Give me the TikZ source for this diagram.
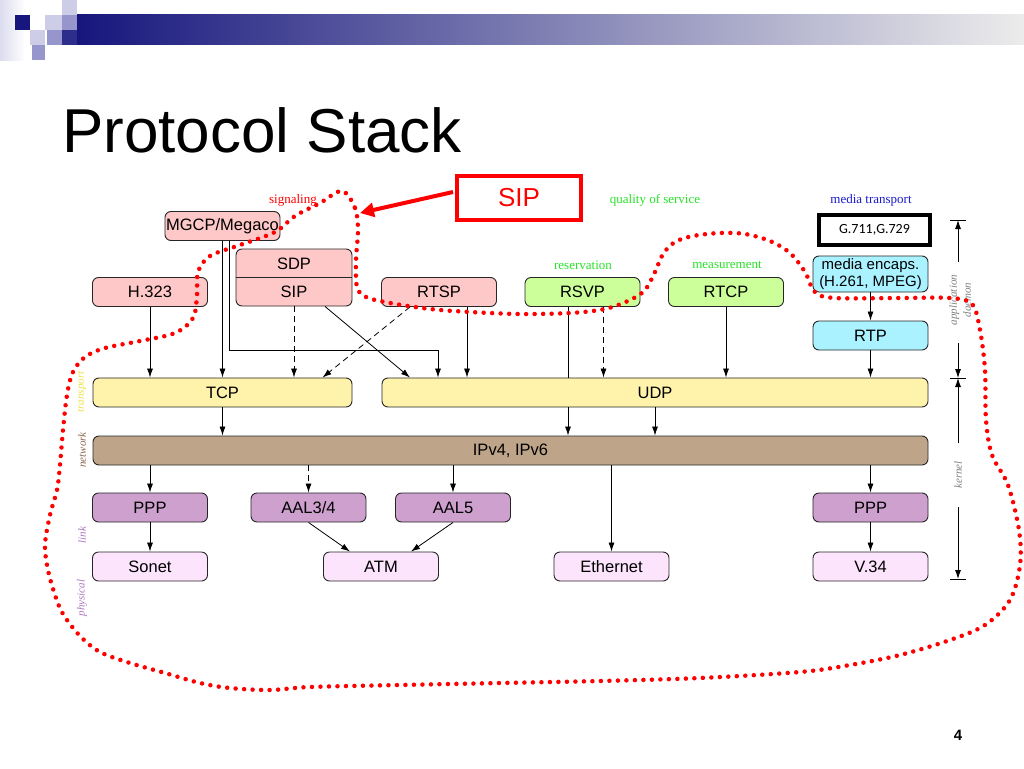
\documentclass[tikz,border=0pt]{standalone}
\usepackage{fontspec}
\setmainfont{Liberation Sans}
\newfontfamily\tms{Liberation Serif}
\newfontfamily\clb{Carlito}
\usetikzlibrary{arrows.meta}
\definecolor{navyd}{RGB}{22,22,125}
\definecolor{navym}{RGB}{45,45,140}
\definecolor{lava}{RGB}{205,205,232}
\definecolor{lavb}{RGB}{150,150,205}
\definecolor{sigpink}{RGB}{255,200,200}
\definecolor{qosgreen}{RGB}{204,255,153}
\definecolor{mediacyan}{RGB}{170,242,255}
\definecolor{transyellow}{RGB}{255,242,170}
\definecolor{netbrown}{RGB}{190,165,138}
\definecolor{linkpurple}{RGB}{205,160,205}
\definecolor{physpink}{RGB}{252,228,252}
\definecolor{lblgreen}{RGB}{40,225,40}
\definecolor{lblblue}{RGB}{25,25,200}
\definecolor{lblyellow}{RGB}{235,225,70}
\definecolor{lblbrown}{RGB}{140,105,80}
\definecolor{lblpurple}{RGB}{170,120,190}
\begin{document}
\begin{tikzpicture}[x=1pt,y=-1pt,>={Latex[length=9pt,width=6pt]},
    box/.style={draw=black!85, line width=0.9pt, rounded corners=6pt, minimum width=115pt, minimum height=29pt, inner sep=0pt, font=\fontsize{16.5}{18}\selectfont},
    grp/.style={font=\tms\fontsize{13}{14}\selectfont, inner sep=0pt},
    lyr/.style={font=\tms\itshape\fontsize{11}{14}\selectfont, rotate=90, inner sep=0pt},
    link/.style={->, line width=0.8pt},
    dsh/.style={dash pattern=on 6pt off 4pt},
    dotline/.style={red, line width=4.5pt, line cap=round, dash pattern=on 0pt off 8.5pt}]
    \useasboundingbox (0,0) rectangle (1024,768);
    \shade[left color=lava!70, right color=white] (0,0) rectangle (25,60);
    \fill[navyd] (15,15) rectangle (30,30);
    \fill[lava] (30,30) rectangle (45,45);
    \fill[lavb] (32,45) rectangle (45,60);
    \fill[lava] (45,15) rectangle (62,30);
    \fill[lavb] (47,30) rectangle (62,45);
    \fill[lava] (62,0) rectangle (77,15);
    \fill[lavb] (62,15) rectangle (77,30);
    \fill[navym] (62,30) rectangle (77,45);
    \shade[left color=navyd, right color=gray!15] (77,15) rectangle (1024,45);
    \node[anchor=base west, inner sep=0pt, font=\fontsize{62}{70}\selectfont] (title) at (62,152) {Protocol Stack};
    \node[grp, text=red] (siglbl) at (293,200) {signaling};
    \node[grp, text=lblgreen] (qoslbl) at (655,200) {quality of service};
    \node[grp, text=lblblue] (medlbl) at (871,200) {media transport};
    \node[grp, text=lblgreen] (reslbl) at (583,265) {reservation};
    \node[grp, text=lblgreen] (measlbl) at (727,265) {measurement};
    \node[box, fill=sigpink] (mgcp) at (222.5,226) {MGCP/Megaco};
    \node[box, fill=sigpink, minimum width=116pt, minimum height=57pt] (sdpsip) at (294,277.5) {};
    \draw[black!85, line width=0.9pt] (sdpsip.west) -- (sdpsip.east);
    \node[font=\fontsize{16.5}{18}\selectfont] (sdp) at (294,263.5) {SDP};
    \node[font=\fontsize{16.5}{18}\selectfont] (sip) at (294,292) {SIP};
    \node[box, fill=sigpink] (h323) at (150,292) {H.323};
    \node[box, fill=sigpink] (rtsp) at (439,292) {RTSP};
    \node[box, fill=qosgreen] (rsvp) at (582.5,292) {RSVP};
    \node[box, fill=qosgreen] (rtcp) at (726,292) {RTCP};
    \node[draw, line width=3.5pt, fill=white, minimum width=111pt, minimum height=30pt, font=\clb\fontsize{14}{16}\selectfont] (codec) at (874.5,230) {G.711,G.729};
    \node[box, fill=mediacyan, minimum height=36pt, align=center, font=\fontsize{15}{17}\selectfont] (encaps) at (870.5,274) {media encaps.\\(H.261, MPEG)};
    \node[box, fill=mediacyan] (rtp) at (870.5,335.5) {RTP};
    \node[box, fill=transyellow, minimum width=259pt] (tcp) at (222.5,392.5) {TCP};
    \node[box, fill=transyellow, minimum width=546pt] (udp) at (655,392.5) {UDP};
    \node[box, fill=netbrown, minimum width=835pt] (ip) at (510.5,450.5) {IPv4, IPv6};
    \node[box, fill=linkpurple] (pppl) at (150,507.5) {PPP};
    \node[box, fill=linkpurple] (aal34) at (308.5,507.5) {AAL3/4};
    \node[box, fill=linkpurple] (aal5) at (453,507.5) {AAL5};
    \node[box, fill=linkpurple] (pppr) at (870.5,507.5) {PPP};
    \node[box, fill=physpink] (sonet) at (150,566.5) {Sonet};
    \node[box, fill=physpink] (atm) at (381,566.5) {ATM};
    \node[box, fill=physpink] (eth) at (611.5,566.5) {Ethernet};
    \node[box, fill=physpink] (v34) at (870.5,566.5) {V.34};
    \node[lyr, text=lblyellow] (translbl) at (82,392) {transport};
    \node[lyr, text=lblbrown] (netlbl) at (82,450) {network};
    \node[lyr, text=lblpurple] (linklbl) at (82,535) {link};
    \node[lyr, text=lblpurple] (physlbl) at (82,598) {physical};
    \node[lyr, text=gray, align=center] (appl) at (960,300) {application\\daemon};
    \node[lyr, text=gray] (kern) at (958,475) {kernel};
    \draw[link] (h323.south) -- (h323.south |- tcp.north);
    \draw[link] (mgcp.south) -- (mgcp.south |- tcp.north);
    \coordinate (mgbend) at (438,350);
    \draw[link] ([xshift=7pt]mgcp.south) |- (mgbend) -- (mgbend |- udp.north);
    \draw[link, dsh] (sdpsip.south) -- (sdpsip.south |- tcp.north);
    \draw[link] ([xshift=31pt]sdpsip.south) -- ([xshift=-245pt]udp.north);
    \draw[link, dsh] ([xshift=-29pt]rtsp.south) -- ([xshift=100pt]tcp.north);
    \draw[link] ([xshift=28pt]rtsp.south) -- ([xshift=28pt]rtsp.south |- udp.north);
    \draw[line width=0.8pt] ([xshift=-14pt]rsvp.south) -- ([xshift=-14pt]rsvp.south |- udp.north);
    \draw[link, dsh] ([xshift=21pt]rsvp.south) -- ([xshift=21pt]rsvp.south |- udp.north);
    \draw[link] (rtcp.south) -- (rtcp.south |- udp.north);
    \draw[link] (encaps) -- (rtp);
    \draw[link] (rtp) -- (rtp.south |- udp.north);
    \draw[link] (tcp.south) -- (tcp.south |- ip.north);
    \draw[link] ([xshift=-87pt]udp.south) -- ([xshift=-87pt]udp.south |- ip.north);
    \draw[link] (udp.south) -- (udp.south |- ip.north);
    \draw[link] (pppl.north |- ip.south) -- (pppl);
    \draw[link, dsh] (aal34.north |- ip.south) -- (aal34);
    \draw[link] (aal5.north |- ip.south) -- (aal5);
    \draw[link] (eth.north |- ip.south) -- (eth);
    \draw[link] (pppr.north |- ip.south) -- (pppr);
    \draw[link] (pppl) -- (sonet);
    \draw[link] (pppr) -- (v34);
    \draw[link] (aal34.south) -- ([xshift=-31pt]atm.north);
    \draw[link] (aal5.south) -- ([xshift=30pt]atm.north);
    \coordinate (dtop) at (958,220);
    \coordinate (dmid) at (958,378);
    \coordinate (dbot) at (958,579);
    \foreach \tick in {dtop,dmid,dbot}
        \draw[line width=0.8pt] ([xshift=-8pt]\tick) -- ([xshift=8pt]\tick);
    \draw[link] ([yshift=-42pt]dtop) -- (dtop);
    \draw[link] ([yshift=35pt]dmid) -- (dmid);
    \draw[link] ([yshift=-65pt]dmid) -- (dmid);
    \draw[link] ([yshift=72pt]dbot) -- (dbot);
    \node[draw=red, line width=4pt, fill=white, minimum width=124pt, minimum height=44pt, text=red, font=\fontsize{26}{28}\selectfont] (sipbox) at (519,198) {SIP};
    \coordinate (sigtip) at (360,213);
    \draw[red, line width=4pt, -{Triangle[length=14pt,width=14pt]}] ([xshift=-2pt,yshift=6pt]sipbox.west) -- (sigtip);
    \draw[dotline] plot[smooth cycle, tension=0.55] coordinates {(342,191) (355,208) (358,230) (356,260) (357,287) (366,297) (390,303) (430,309) (470,312) (520,314) (570,313) (605,309) (630,300) (645,290) (655,272) (663,254) (675,242) (693,236) (720,233) (745,234) (770,241) (790,253) (805,272) (815,292) (835,298) (900,298) (950,298) (972,304) (980,330) (985,370) (986,420) (992,455) (1008,485) (1019,530) (1020,565) (1010,600) (985,625) (950,640) (900,655) (850,665) (800,672) (700,678) (600,681) (500,683) (400,685) (310,687) (270,690) (230,688) (200,683) (165,673) (130,663) (100,652) (80,636) (63,614) (55,595) (48,570) (45,545) (50,515) (57,490) (60,465) (63,430) (67,395) (73,372) (85,357) (105,348) (140,341) (175,333) (193,318) (197,295) (198,272) (210,256) (240,245) (275,232) (295,216) (320,203)};
    \node[font=\bfseries\fontsize{15}{16}\selectfont] (pnum) at (958,735) {4};
\end{tikzpicture}
\end{document}
